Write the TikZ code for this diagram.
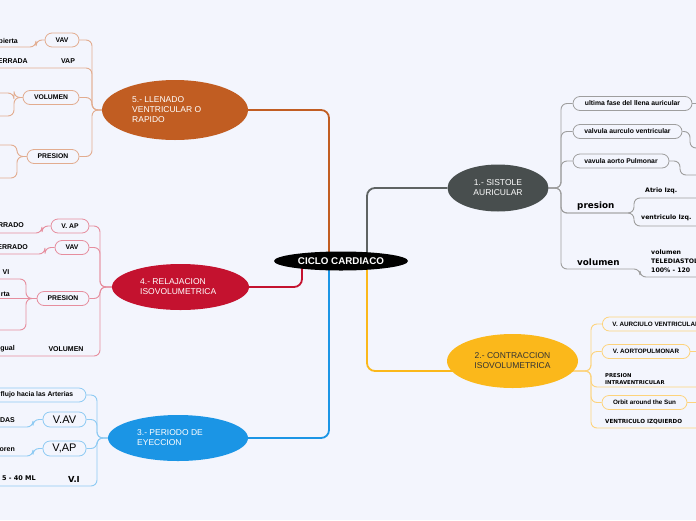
\documentclass[tikz,border=0pt]{standalone}
\usepackage{fontspec}
\setmainfont{Liberation Sans}
\newfontfamily\dv{DejaVu Sans}
\usetikzlibrary{shapes.geometric}
\definecolor{bg}{HTML}{F3F5FD}
\definecolor{c5}{HTML}{C15D22}
\definecolor{l5}{HTML}{E2AC8F}
\definecolor{c4}{HTML}{C4122F}
\definecolor{l4}{HTML}{E68E9E}
\definecolor{c3}{HTML}{1B95E5}
\definecolor{l3}{HTML}{8DCAF3}
\definecolor{c1}{HTML}{484E4E}
\definecolor{c1g}{HTML}{5E6363}
\definecolor{l1}{HTML}{9E9E9E}
\definecolor{c2}{HTML}{FBB81B}
\definecolor{l2}{HTML}{FDD37C}
\definecolor{txt2}{HTML}{333333}
\pgfdeclarelayer{bglayer}
\pgfsetlayers{bglayer,main}
\tikzset{
  blob/.style={ellipse, inner sep=0pt},
  bigtxt/.style={inner sep=0pt, align=left, font=\fontsize{8.5}{10}\selectfont},
  box/.style={draw, rounded corners=7pt, fill=bg, line width=0.8pt, minimum height=14pt, inner sep=0pt, font=\bfseries\fontsize{6.8}{7}\selectfont, text=black},
  lbl/.style={inner sep=0pt, font=\bfseries\fontsize{7}{8}\selectfont},
  dvl/.style={inner sep=0pt, align=left, font=\dv\bfseries\fontsize{6.2}{9}\selectfont},
  dvbig/.style={inner sep=0pt, font=\dv\bfseries\fontsize{8.8}{10}\selectfont},
  twig/.style={line width=0.9pt, rounded corners=6pt},
  trunkline/.style={line width=1.8pt, rounded corners=8pt}
}
\begin{document}
\begin{tikzpicture}[x=1pt,y=-1pt]
\useasboundingbox (0,0) rectangle (696,520);
\clip (0,0) rectangle (696,520);

% central node
\node[blob, fill=black, minimum width=134pt, minimum height=19pt, text=white, font=\bfseries\fontsize{9.8}{12}\selectfont] (cc) at (341,261) {CICLO CARDIACO};

% main branches
\node[blob, fill=c5, minimum width=146pt, minimum height=60pt] (n5) at (175,110) {};
\node[bigtxt, anchor=west, text=white] (t5) at (132,110) {5.- LLENADO\\VENTRICULAR O\\RAPIDO};
\node[blob, fill=c4, minimum width=137pt, minimum height=46pt] (n4) at (180.5,287) {};
\node[bigtxt, anchor=west, text=white] (t4) at (140,287) {4.- RELAJACION\\ISOVOLUMETRICA};
\node[blob, fill=c3, minimum width=140pt, minimum height=46pt] (n3) at (178,438) {};
\node[bigtxt, anchor=west, text=white] (t3) at (137,438) {3.- PERIODO DE\\EYECCION};
\node[blob, fill=c1, minimum width=101pt, minimum height=47pt, text=white, align=center, font=\fontsize{8.5}{10}\selectfont] (n1) at (498,188) {1.- SISTOLE\\AURICULAR};
\node[blob, fill=c2, minimum width=131pt, minimum height=54pt, text=txt2, align=center, font=\fontsize{8.5}{10}\selectfont] (n2) at (512.5,361) {2.- CONTRACCION\\ISOVOLUMETRICA};

% node 1 children
\node[box, draw=l1, minimum width=119pt] (c11) at (632.5,103.5) {ultima fase del llena auricular};
\node[box, draw=l1, minimum width=109pt] (c12) at (627.5,131.5) {valvula aurculo ventricular};
\node[box, draw=l1, minimum width=96pt] (c13) at (621,161) {vavula aorto Pulmonar};
\node[dvbig, anchor=west] (p1) at (577,206) {presion};
\node[dvl, anchor=west] (p11) at (645,191) {Atrio Izq.};
\node[dvl, anchor=west] (p12) at (641,218) {ventriculo Izq.};
\node[dvbig, anchor=west] (p2) at (577,262) {volumen};
\node[dvl, anchor=west] (p21) at (651,261) {volumen\\TELEDIASTOLICO\\100\% - 120};

% node 2 children
\node[box, draw=l2, anchor=west, inner xsep=10pt, font=\bfseries\fontsize{6.3}{7}\selectfont] (d1) at (602,324) {V. AURCIULO VENTRICULAR};
\node[box, draw=l2, minimum width=88pt, font=\bfseries\fontsize{6.3}{7}\selectfont] (d2) at (646,351.5) {V. AORTOPULMONAR};
\node[dvl, anchor=west, font=\dv\bfseries\fontsize{5.3}{6.3}\selectfont] (d3) at (605,379) {PRESION\\INTRAVENTRICULAR};
\node[box, draw=l2, minimum width=85pt, font=\bfseries\fontsize{6.3}{7}\selectfont] (d4) at (644.5,402.5) {Orbit around the Sun};
\node[dvl, anchor=west, font=\dv\bfseries\fontsize{5.6}{7}\selectfont] (d5) at (605,422) {VENTRICULO IZQUIERDO};

% node 5 children
\node[box, draw=l5, minimum width=34pt] (e1) at (62,40) {VAV};
\node[lbl, anchor=east] (e1t) at (18,41) {Abierta};
\node[lbl] (e2) at (68,61) {VAP};
\node[lbl, anchor=east] (e2t) at (28,61) {ERRADA};
\node[box, draw=l5, minimum width=56pt] (e3) at (51,97.5) {VOLUMEN};
\node[box, draw=l5, minimum width=52pt] (e4) at (53,156.5) {PRESION};

% node 4 children
\node[box, draw=l4, minimum width=38pt] (f1) at (70,226) {V. AP};
\node[lbl, anchor=east] (f1t) at (24,225) {ERRADO};
\node[box, draw=l4, minimum width=34pt] (f2) at (72,247.5) {VAV};
\node[lbl, anchor=east] (f2t) at (28,247) {ERRADO};
\node[lbl, anchor=east] (f3) at (9.5,272) {VI};
\node[box, draw=l4, minimum width=52pt] (f4) at (63,298.5) {PRESION};
\node[lbl, anchor=east] (f4t) at (10,294) {rta};
\node[lbl] (f5) at (66,349) {VOLUMEN};
\node[lbl, anchor=east] (f5t) at (15,349) {gual};

% node 3 children
\node[box, draw=l3, minimum width=98pt] (g1) at (37,395) {flujo hacia las Arterias};
\node[box, draw=l3, minimum width=43pt, minimum height=15pt, font=\fontsize{11}{12}\selectfont] (g2) at (64.5,419.5) {V.AV};
\node[lbl, anchor=east] (g2t) at (15,420) {DAS};
\node[box, draw=l3, minimum width=43pt, minimum height=15pt, font=\fontsize{11}{12}\selectfont] (g3) at (64.5,448.5) {V,AP};
\node[lbl, anchor=east] (g3t) at (15,450) {oren};
\node[dvbig, font=\dv\bfseries\fontsize{8.3}{10}\selectfont] (g4) at (74,479) {V.I};
\node[dvl, anchor=east, font=\dv\bfseries\fontsize{6.5}{8}\selectfont] (g4t) at (36,478) {5 - 40 ML};

\begin{pgfonlayer}{bglayer}
\clip (0,0) rectangle (696,520);
\fill[bg] (0,0) rectangle (696,520);
% central connectors
\draw[trunkline, c5] (n5.east) -- (329,110) -- ([xshift=-12pt]cc.center);
\draw[trunkline, c4] (n4.east) -- (302,287) -- ([xshift=-39pt]cc.center);
\draw[trunkline, c3] (n3.east) -- (329,438) -- ([xshift=-12pt]cc.center);
\draw[trunkline, c1g] (n1.west) -- (367,188) -- ([xshift=26pt]cc.center);
\draw[trunkline, c2] ([yshift=-10pt]n2.center) -- (367,371) -- ([xshift=26pt]cc.center);

% node 1 links
\foreach \c in {c11,c12,c13} \draw[twig, l1] (n1.east) -- (561,188) |- (\c.west);
\draw[twig, l1] (n1.east) -- (561,188) |- (634,213) |- (700,198);
\draw[twig, l1] (n1.east) -- (561,188) |- (634,213) |- (700,226);
\draw[twig, l1] (n1.east) -- (561,188) |- (640,269) |- (700,277);
\draw[twig, l1] (c11.east) -- (700,103.5);
\draw[twig, l1] (c12.east) -- (690,131.5) |- (710,148);
\draw[twig, l1] (c13.east) -- (680,161) |- (710,175);

% node 2 links
\foreach \c in {d1,d2,d4} \draw[twig, l2] ([yshift=-10pt]n2.center) -- (591,371) |- (\c.west);
\draw[twig, l2] ([yshift=-10pt]n2.center) -- (591,371) |- (700,387);
\draw[twig, l2] ([yshift=-10pt]n2.center) -- (591,371) |- (700,428);
\draw[twig, l2] (d2.east) -- (700,351.5);
\draw[twig, l2] (d4.east) -- (700,402.5);

% node 5 links
\foreach \c in {e1,e3,e4} \draw[twig, l5] (n5.west) -- (92,110) |- (\c.east);
\draw[twig, l5] (n5.west) -- (92,110) |- (-10,68);
\draw[twig, l5] (e1.west) -- (36,40) |- (-10,47);
\draw[twig, l5] (e3.west) -- (14,97.5) |- (-10,93);
\draw[twig, l5] (e3.west) -- (14,97.5) |- (-10,116);
\draw[twig, l5] (e4.west) -- (17,156.5) |- (-10,145);
\draw[twig, l5] (e4.west) -- (17,156.5) |- (-10,178);

% node 4 links
\foreach \c in {f1,f2,f4} \draw[twig, l4] (n4.west) -- (100,287) |- (\c.east);
\draw[twig, l4] (n4.west) -- (100,287) |- (-10,356);
\draw[twig, l4] (f1.west) -- (42,226) |- (-10,233);
\draw[twig, l4] (f2.west) -- (45,247.5) |- (-10,254);
\draw[twig, l4] (f4.west) -- (-10,298.5);
\draw[twig, l4] (f4.west) -- (26,298.5) |- (-10,279);
\draw[twig, l4] (f4.west) -- (26,298.5) |- (-10,330);

% node 3 links
\foreach \c in {g1,g2,g3} \draw[twig, l3] (n3.west) -- (97,438) |- (\c.east);
\draw[twig, l3] (n3.west) -- (97,438) |- (-10,486);
\draw[twig, l3] (g2.west) -- (33,419.5) |- (-10,427);
\draw[twig, l3] (g3.west) -- (33,448.5) |- (-10,456);
\end{pgfonlayer}
\end{tikzpicture}
\end{document}
